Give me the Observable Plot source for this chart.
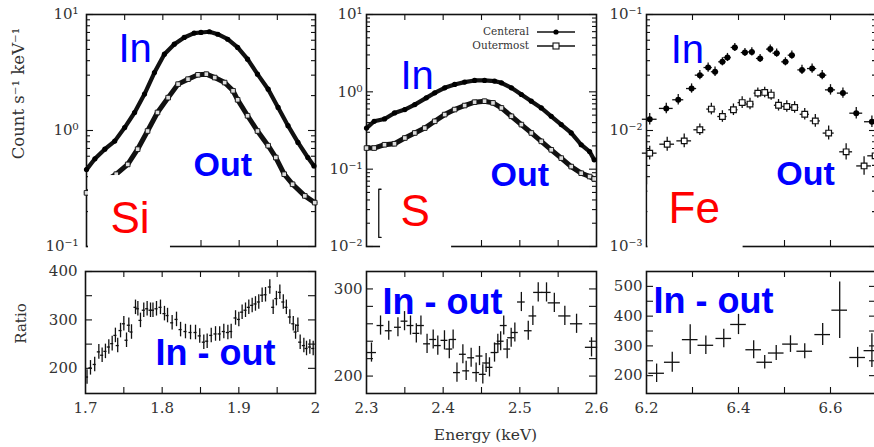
<!DOCTYPE html>
<html>
<head>
<meta charset="utf-8">
<script src="https://cdn.jsdelivr.net/npm/d3@7"></script>
<script src="https://cdn.jsdelivr.net/npm/@observablehq/plot@0.6"></script>
<style>
  html, body { margin: 0; padding: 0; background: #fff; }
  #chart { position: relative; width: 874px; height: 447px; overflow: hidden; background: #fff; }
  #chart svg { position: absolute; left: 0; top: 0; }
</style>
</head>
<body>
<div id="chart"></div>
<script>
// ---------------- DATA ----------------
// Si band: count rate (counts s^-1 keV^-1)
const siInE  = [1.700,1.711,1.724,1.737,1.750,1.763,1.776,1.789,1.802,1.815,1.828,1.841,1.850,1.861,1.872,1.885,1.898,1.911,1.924,1.938,1.951,1.964,1.977,1.990,1.998];
const siInC  = [0.46,0.57,0.69,0.81,1.06,1.43,2.06,3.16,4.55,5.55,6.34,6.91,7.0,7.1,6.76,6.12,5.2,4.12,3.06,2.27,1.58,1.10,0.79,0.585,0.495];
const siOutE = [1.700,1.739,1.754,1.767,1.780,1.793,1.807,1.820,1.833,1.846,1.857,1.868,1.881,1.892,1.898,1.911,1.924,1.938,1.948,1.959,1.970,1.986,1.999];
const siOutC = [0.29,0.42,0.51,0.69,0.99,1.43,1.92,2.51,2.77,3.02,3.06,2.86,2.59,2.20,1.84,1.34,0.99,0.74,0.585,0.42,0.344,0.273,0.239];

// S band
const sInE  = [2.300,2.310,2.3235,2.3365,2.350,2.363,2.378,2.389,2.402,2.415,2.428,2.441,2.454,2.467,2.476,2.489,2.502,2.515,2.528,2.541,2.554,2.567,2.580,2.591,2.597];
const sInC  = [0.340,0.416,0.446,0.533,0.590,0.684,0.836,0.970,1.127,1.245,1.336,1.403,1.403,1.377,1.309,1.127,0.923,0.757,0.619,0.483,0.377,0.294,0.207,0.169,0.132];
const sOutE = [2.300,2.310,2.3235,2.3365,2.350,2.363,2.376,2.389,2.402,2.415,2.428,2.441,2.454,2.465,2.476,2.489,2.502,2.515,2.528,2.541,2.554,2.567,2.580,2.591,2.597];
const sOutC = [0.1875,0.1875,0.207,0.213,0.253,0.294,0.340,0.416,0.508,0.590,0.665,0.735,0.757,0.719,0.619,0.483,0.377,0.294,0.229,0.178,0.139,0.108,0.0887,0.0803,0.0748];

// Fe band (binned, with errors: dx in keV, dy in dex)
const feInE  = [6.207,6.243,6.269,6.298,6.316,6.334,6.349,6.365,6.376,6.392,6.414,6.429,6.447,6.469,6.483,6.502,6.516,6.538,6.560,6.582,6.600,6.627,6.656,6.690];
const feInC  = [0.0125,0.0155,0.0184,0.0230,0.0300,0.0349,0.0321,0.0391,0.0426,0.0520,0.0470,0.0476,0.0418,0.0503,0.0464,0.0391,0.0446,0.0333,0.0342,0.0300,0.0224,0.0210,0.0141,0.0119];
const feInDx = [0.016,0.015,0.012,0.011,0.010,0.009,0.008,0.008,0.008,0.008,0.008,0.008,0.008,0.008,0.008,0.008,0.008,0.009,0.010,0.010,0.011,0.012,0.014,0.016];
const feInDy = [0.05,0.045,0.045,0.04,0.04,0.04,0.04,0.035,0.035,0.035,0.035,0.035,0.035,0.035,0.035,0.035,0.035,0.04,0.04,0.04,0.045,0.045,0.05,0.05];
const feOutE  = [6.207,6.245,6.282,6.316,6.341,6.365,6.389,6.408,6.425,6.442,6.457,6.471,6.487,6.505,6.522,6.544,6.567,6.596,6.634,6.673,6.697];
const feOutC  = [0.00638,0.00762,0.00814,0.01014,0.0153,0.0132,0.0151,0.0174,0.0169,0.0210,0.0213,0.0202,0.0165,0.0161,0.0158,0.0138,0.0121,0.0095,0.00655,0.00495,0.00605];
const feOutDx = [0.016,0.016,0.016,0.013,0.010,0.010,0.010,0.009,0.009,0.008,0.008,0.008,0.009,0.009,0.009,0.010,0.011,0.012,0.014,0.016,0.016];
const feOutDy = [0.06,0.06,0.06,0.05,0.05,0.05,0.05,0.05,0.05,0.045,0.045,0.045,0.05,0.05,0.05,0.05,0.055,0.06,0.07,0.08,0.08];

// Ratio (In - out) panels
const siRatioE = [1.702,1.7065,1.712,1.7174,1.7217,1.726,1.7304,1.7348,1.739,1.742,1.7457,1.750,1.7535,1.7565,1.760,1.7652,1.7683,1.7717,1.776,1.7804,1.7848,1.788,1.7926,1.7978,1.803,1.807,1.813,1.8187,1.824,1.8304,1.837,1.8435,1.849,1.8543,1.8587,1.864,1.8696,1.875,1.8804,1.8857,1.890,1.8957,1.900,1.9043,1.9087,1.913,1.9174,1.9217,1.926,1.9304,1.9348,1.9404,1.9448,1.949,1.9535,1.958,1.962,1.9665,1.971,1.974,1.977,1.980,1.9848,1.9883,1.9926,1.997];
const siRatioV = [182,201,208,234,227,235,244,251,268,247,278,292,258,289,275,326,323,299,320,323,320,320,323,326,313,309,294,301,280,276,274,274,267,254,256,268,271,271,276,274,276,304,301,316,320,326,330,333,337,351,352,368,326,344,357,337,326,306,292,275,289,254,247,241,244,241];
const siRatioErr = 15, siRatioDx = 0.002;

const sRatioE = [2.3065,2.3183,2.329,2.341,2.3496,2.3574,2.365,2.371,2.379,2.387,2.393,2.4017,2.408,2.413,2.418,2.4257,2.430,2.4365,2.443,2.4474,2.4517,2.456,2.4604,2.467,2.4713,2.475,2.479,2.4835,2.4887,2.4935,2.502,2.511,2.517,2.524,2.5348,2.545,2.5587,2.574,2.5935];
const sRatioV = [227,258,252,256,263,258,249,258,237,242,235,241,231,242,204,225,206,221,204,223,202,215,210,227,237,240,258,231,244,250,285,252,269,296,296,284,269,260,233];
const sRatioDx = [0.0065,0.0045,0.0045,0.0045,0.0045,0.0045,0.0045,0.0045,0.0045,0.0045,0.0045,0.0045,0.0045,0.0045,0.0045,0.0045,0.0045,0.0045,0.0045,0.0045,0.0045,0.0045,0.0045,0.0045,0.0045,0.0045,0.0045,0.0045,0.0045,0.0045,0.005,0.005,0.005,0.006,0.006,0.008,0.008,0.008,0.008];
const sRatioErr = 11;

const feRatioE = [6.222,6.256,6.295,6.329,6.368,6.400,6.433,6.457,6.482,6.513,6.544,6.583,6.620,6.659,6.690];
const feRatioV = [208,245,321,302,325,372,287,245,276,306,282,338,420,261,284];
const feRatioErr = [31,34,50,31,31,34,30,23,25,28,25,37,95,34,57];
const feRatioDx = 0.017;

// Tick labels
const siCountTicks = [0.1, 1, 10];
const sCountTicks  = [0.01, 0.1, 1, 10];
const feCountTicks = [0.001, 0.01, 0.1];
const siRatioTicks = [200, 300, 400];
const sRatioTicks  = [200, 300];
const feRatioTicks = [200, 300, 400, 500];
const siXTicks = [1.7, 1.8, 1.9, 2.0], siXLabels = ["1.7", "1.8", "1.9", "2"];
const sXTicks  = [2.3, 2.4, 2.5, 2.6], sXLabels  = ["2.3", "2.4", "2.5", "2.6"];
const feXTicks = [6.2, 6.4, 6.6],      feXLabels = ["6.2", "6.4", "6.6"];
const legendItems = ["Centeral", "Outermost"];
const countLabel = "Count s\u207B\u00B9 keV\u207B\u00B9";
const ratioLabel = "Ratio";
const energyLabel = "Energy (keV)";

// ---------------- HELPERS ----------------
const W = 874, H = 447;
const chart = document.getElementById("chart");
const rows = (xs, ys, extra = {}) => xs.map((x, i) => {
  const r = {x, y: ys[i]};
  for (const k in extra) r[k] = Array.isArray(extra[k]) ? extra[k][i] : extra[k];
  return r;
});
const supMap = {"-": "\u207B", "0": "\u2070", "1": "\u00B9", "2": "\u00B2", "3": "\u00B3"};
const fmtPow = d => "10" + String(Math.round(Math.log10(d))).split("").map(c => supMap[c]).join("");
const logMinor = (lo, hi) => { const t = []; for (let e = lo; e < hi; e++) for (let k = 2; k <= 9; k++) t.push(k * Math.pow(10, e)); return t; };
const stepTicks = (a, b, s) => d3.range(Math.round((b - a) / s) + 1).map(i => +(a + i * s).toFixed(4));
const lookup = (ticks, labels) => d => labels[ticks.findIndex(t => Math.abs(t - d) < 1e-9)];

const INK = "#111";
const TICKFONT = 15;
function note(text, x, y, o) {
  return Plot.text([text], {x, y, text: d => d, textAnchor: "start", lineAnchor: "bottom",
    fontFamily: "Liberation Sans, Arial, sans-serif", fontSize: o.size, fontWeight: o.weight || "normal", fill: o.color});
}
function cover(x1, x2, y1, y2) { return Plot.rect([0], {x1, x2, y1, y2, fill: "#fff"}); }

function panel(o) {
  const innerW = o.fx1 - o.fx0, innerH = o.fy1 - o.fy0;
  const tk = {stroke: INK, strokeWidth: 1.1};
  const marks = [
    Plot.frame({stroke: INK, strokeWidth: 1.6}),
    Plot.tickX(o.xTicks, {x: d => d, insetTop: innerH - 6, ...tk}),
    Plot.tickX(o.xTicks, {x: d => d, insetBottom: innerH - 6, ...tk}),
    Plot.tickY(o.yMajor, {y: d => d, insetRight: innerW - 7, ...tk}),
    Plot.tickY(o.yMajor, {y: d => d, insetLeft: innerW - 7, ...tk})
  ];
  if (o.yMinor) marks.push(
    Plot.tickY(o.yMinor, {y: d => d, insetRight: innerW - 4, ...tk}),
    Plot.tickY(o.yMinor, {y: d => d, insetLeft: innerW - 4, ...tk}));
  marks.push(...o.marks);
  marks.push(Plot.axisY(o.yLabels, {tickSize: 0, tickPadding: o.yPad, tickFormat: o.yFormat, label: null, fontSize: TICKFONT, fill: "#333"}));
  if (o.xLabels) marks.push(Plot.axisX(o.xLabels, {tickSize: 0, tickPadding: 9, tickFormat: o.xFormat, label: null, fontSize: TICKFONT, fill: "#333"}));
  const svg = Plot.plot({
    width: W, height: H,
    marginLeft: o.fx0, marginRight: W - o.fx1, marginTop: o.fy0, marginBottom: H - o.fy1,
    x: o.xLabels ? {domain: o.xDomain, label: null} : {domain: o.xDomain, label: null, axis: null},
    y: {type: o.yType || "linear", domain: o.yDomain, label: null},
    style: {background: "transparent", fontFamily: "DejaVu Serif", fontSize: "14px", color: "#333", overflow: "visible"},
    marks
  });
  chart.appendChild(svg);
}

function countMarks(inRows, outRows) {
  return [
    Plot.line(outRows, {x: "x", y: "y", stroke: INK, strokeWidth: 5, strokeLinejoin: "round"}),
    Plot.dot(outRows, {x: "x", y: "y", symbol: "square", r: 2.6, fill: "#ddd", stroke: INK, strokeWidth: 0.9}),
    Plot.line(inRows, {x: "x", y: "y", stroke: INK, strokeWidth: 4.2, strokeLinejoin: "round"}),
    Plot.dot(inRows, {x: "x", y: "y", r: 2.6, fill: "#000"})
  ];
}
function crossMarks(data, logY) {
  return [
    Plot.ruleY(data, {y: "y", x1: d => d.x - d.dx, x2: d => d.x + d.dx, stroke: INK, strokeWidth: 1.3}),
    Plot.ruleX(data, {x: "x",
      y1: d => logY ? d.y / Math.pow(10, d.dy) : d.y - d.dy,
      y2: d => logY ? d.y * Math.pow(10, d.dy) : d.y + d.dy, stroke: INK, strokeWidth: 1.3})
  ];
}
const yTitle = (t, size, dx, dy) => Plot.text([t], {frameAnchor: "left", text: d => d, dx, dy, rotate: -90,
  textAnchor: "middle", lineAnchor: "middle", fontSize: size, fill: "#333", fontFamily: "DejaVu Serif"});

function legendMark(index, scales, values, dims) {
  const xr = dims.width - dims.marginRight, y0 = dims.marginTop;
  const g = d3.create("svg:g").attr("font-family", "DejaVu Serif").attr("font-size", 10.5).attr("fill", "#333");
  legendItems.forEach((name, i) => {
    const y = y0 + 18 + i * 14;
    g.append("text").attr("x", xr - 67).attr("y", y).attr("dy", "0.32em").attr("text-anchor", "end").text(name);
    g.append("line").attr("x1", xr - 59).attr("x2", xr - 21).attr("y1", y).attr("y2", y).attr("stroke", INK).attr("stroke-width", 1.3);
    if (i === 0) g.append("circle").attr("cx", xr - 40).attr("cy", y).attr("r", 2.6).attr("fill", "#000");
    else g.append("rect").attr("x", xr - 43).attr("y", y - 3).attr("width", 6).attr("height", 6).attr("fill", "#fff").attr("stroke", INK).attr("stroke-width", 1.1);
  });
  return g.node();
}

// ---------------- PANELS ----------------
const blue = "#0000ff", red = "#ff0000";

// Top-left: Si counts
panel({
  fx0: 86, fx1: 315, fy0: 14, fy1: 246,
  xDomain: [1.7, 2.0], yType: "log", yDomain: [0.1, 10],
  xTicks: stepTicks(1.75, 1.95, 0.05), yMajor: siCountTicks, yMinor: logMinor(-1, 1),
  yLabels: siCountTicks, yFormat: fmtPow, yPad: 8,
  marks: [
    ...countMarks(rows(siInE, siInC), rows(siOutE, siOutC)),
    cover(1.7026, 1.81, 0.094, 0.409),
    note("In", 1.7419, 3.86, {size: 40, color: blue}),
    note("Out", 1.8402, 0.409, {size: 34, color: blue, weight: "bold"}),
    note("Si", 1.7314, 0.132, {size: 44, color: red}),
    yTitle(countLabel, 16.5, -68, -37)
  ]
});

// Top-middle: S counts
panel({
  fx0: 366, fx1: 596, fy0: 14, fy1: 246,
  xDomain: [2.3, 2.6], yType: "log", yDomain: [0.01, 10],
  xTicks: stepTicks(2.35, 2.55, 0.05), yMajor: sCountTicks, yMinor: logMinor(-2, 1),
  yLabels: sCountTicks, yFormat: fmtPow, yPad: 4,
  marks: [
    ...countMarks(rows(sInE, sInC), rows(sOutE, sOutC)),
    cover(2.3183, 2.411, 0.0088, 0.060),
    Plot.line([[2.3190, 0.055], [2.3160, 0.055], [2.3160, 0.0131], [2.3190, 0.0131]], {x: d => d[0], y: d => d[1], stroke: INK, strokeWidth: 1.3}),
    note("In", 2.3443, 1.094, {size: 40, color: blue}),
    note("Out", 2.4617, 0.0601, {size: 34, color: blue, weight: "bold"}),
    note("S", 2.3443, 0.0182, {size: 44, color: red}),
    legendMark
  ]
});

// Top-right: Fe counts
panel({
  fx0: 646, fx1: 876, fy0: 14, fy1: 246,
  xDomain: [6.2, 6.7], yType: "log", yDomain: [0.001, 0.1],
  xTicks: stepTicks(6.3, 6.6, 0.1), yMajor: feCountTicks, yMinor: logMinor(-3, -1),
  yLabels: feCountTicks, yFormat: fmtPow, yPad: 4,
  marks: [
    ...crossMarks(rows(feOutE, feOutC, {dx: feOutDx, dy: feOutDy}), true),
    Plot.dot(rows(feOutE, feOutC), {x: "x", y: "y", symbol: "square", r: 3.2, fill: "#fff", stroke: INK, strokeWidth: 1.2}),
    ...crossMarks(rows(feInE, feInC, {dx: feInDx, dy: feInDy}), true),
    Plot.dot(rows(feInE, feInC), {x: "x", y: "y", r: 3, fill: "#000"}),
    cover(6.2033, 6.41, 0.00094, 0.0034),
    note("In", 6.2525, 0.0379, {size: 40, color: blue}),
    note("Out", 6.482, 0.00336, {size: 34, color: blue, weight: "bold"}),
    note("Fe", 6.248, 0.00158, {size: 44, color: red})
  ]
});

// Bottom-left: Si ratio
panel({
  fx0: 85, fx1: 315, fy0: 271, fy1: 393,
  xDomain: [1.7, 2.0], yDomain: [148, 400],
  xTicks: stepTicks(1.75, 1.95, 0.05), yMajor: stepTicks(200, 400, 50),
  yLabels: siRatioTicks, yFormat: d => String(d), yPad: 8,
  xLabels: siXTicks, xFormat: lookup(siXTicks, siXLabels),
  marks: [
    ...crossMarks(rows(siRatioE, siRatioV, {dx: siRatioDx, dy: siRatioErr}), false),
    note("In - out", 1.7913, 206, {size: 36, color: blue, weight: "bold"}),
    yTitle(ratioLabel, 15, -64, -9)
  ]
});

// Bottom-middle: S ratio
panel({
  fx0: 366, fx1: 596, fy0: 271, fy1: 393,
  xDomain: [2.3, 2.6], yDomain: [180, 320],
  xTicks: stepTicks(2.35, 2.55, 0.05), yMajor: stepTicks(200, 300, 20),
  yLabels: sRatioTicks, yFormat: d => String(d), yPad: 4,
  xLabels: sXTicks, xFormat: lookup(sXTicks, sXLabels),
  marks: [
    ...crossMarks(rows(sRatioE, sRatioV, {dx: sRatioDx, dy: sRatioErr}), false),
    note("In - out", 2.3209, 271, {size: 36, color: blue, weight: "bold"}),
    Plot.text([energyLabel], {frameAnchor: "bottom", text: d => d, dx: 4, dy: 42, lineAnchor: "middle",
      fontSize: 15.5, fill: "#333", fontFamily: "DejaVu Serif"})
  ]
});

// Bottom-right: Fe ratio
panel({
  fx0: 646, fx1: 876, fy0: 271, fy1: 393,
  xDomain: [6.2, 6.7], yDomain: [140, 550],
  xTicks: stepTicks(6.3, 6.6, 0.1), yMajor: stepTicks(200, 500, 50),
  yLabels: feRatioTicks, yFormat: d => String(d), yPad: 4,
  xLabels: feXTicks, xFormat: lookup(feXTicks, feXLabels),
  marks: [
    ...crossMarks(rows(feRatioE, feRatioV, {dx: feRatioDx, dy: feRatioErr}), false),
    note("In - out", 6.2153, 409, {size: 36, color: blue, weight: "bold"})
  ]
});
</script>
</body>
</html>
